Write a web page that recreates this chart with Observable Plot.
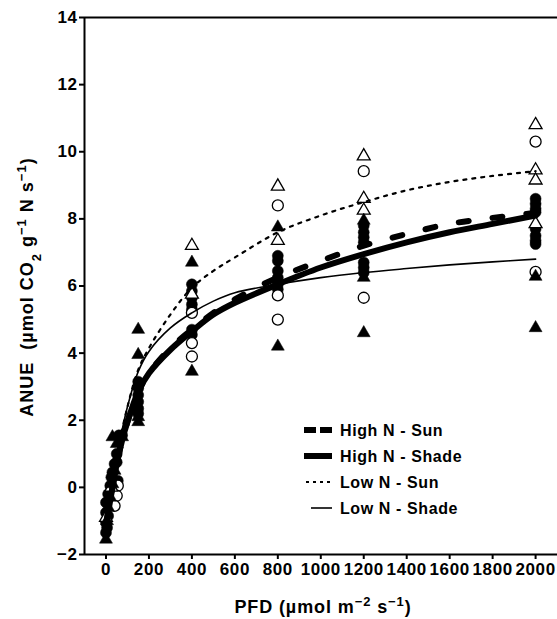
<!DOCTYPE html>
<html><head><meta charset="utf-8">
<script src="https://cdn.jsdelivr.net/npm/d3@7"></script>
<script src="https://cdn.jsdelivr.net/npm/@observablehq/plot@0.6"></script>
<style>
body{margin:0;background:#fff;}
#wrap{position:relative;width:557px;height:619px;overflow:hidden;}
</style></head><body><div id="wrap"></div>
<script>
// axes
const xDomain = [-100, 2102];
const yDomain = [-2, 14];
const xTicks = [0, 200, 400, 600, 800, 1000, 1200, 1400, 1600, 1800, 2000];
const yTicks = [-2, 0, 2, 4, 6, 8, 10, 12, 14];

// observations [PFD, ANUE]
const filledCircles = [
  [0,-1.35],[0,-1.05],[0,-0.75],[0,-0.45],[5,-1.2],[10,-0.85],[10,-0.2],[15,-0.5],[20,0.05],[25,0.3],[25,-0.15],[30,0.45],[40,0.7],[50,1.0],[50,0.75],[55,0.2],[60,1.55],[75,1.55],
  [150,3.15],[150,2.95],[150,2.75],[150,2.55],[150,2.35],[150,2.2],
  [400,6.05],[400,5.85],[400,5.65],[400,5.45],[400,5.3],[400,4.7],[400,4.55],
  [800,6.9],[800,6.75],[800,6.45],[800,6.25],[800,6.05],[800,5.9],
  [1200,7.8],[1200,7.6],[1200,7.45],[1200,7.3],[1200,6.7],[1200,6.55],[1200,6.4],
  [2000,8.6],[2000,8.45],[2000,8.3],[2000,8.2],[2000,7.7],[2000,7.5],[2000,7.35],[2000,7.25]
];
const openCircles = [
  [55,0.05],[50,-0.25],[40,-0.55],
  [400,5.2],[400,4.3],[400,3.9],
  [800,8.4],[800,5.72],[800,5.0],
  [1200,9.42],[1200,5.65],
  [2000,10.3],[2000,6.42]
];
const openTriangles = [
  [0,-0.9],[25,0.0],
  [400,7.2],[400,5.75],
  [800,8.97],[800,7.35],
  [1200,9.87],[1200,8.6],[1200,8.25],
  [2000,10.8],[2000,9.45],[2000,9.15],[2000,7.85]
];
const filledTriangles = [
  [0,-1.55],[5,-1.0],[10,-0.6],[20,-0.3],[30,0.1],[40,0.5],[50,1.3],[30,1.5],[75,1.5],
  [150,4.7],[150,3.95],[150,2.1],[150,1.95],
  [400,6.7],[400,3.45],
  [800,7.75],[800,4.2],
  [1200,7.95],[1200,6.25],[1200,4.6],
  [2000,6.28],[2000,4.75]
];

// fitted curves [PFD, ANUE]
const highNSun = [[0,-1.1],[25,-0.2],[50,0.7],[75,1.4],[100,1.95],[150,2.85],[200,3.4],[300,4.15],[400,4.7],[500,5.2],[600,5.6],[700,5.95],[800,6.25],[1000,6.75],[1200,7.2],[1400,7.55],[1600,7.85],[1800,8.03],[2000,8.18]];
const highNShade = [[0,-1.1],[25,-0.2],[50,0.7],[75,1.4],[100,1.95],[150,2.85],[200,3.4],[300,4.1],[400,4.65],[500,5.15],[600,5.5],[800,6.05],[1000,6.55],[1200,6.95],[1400,7.3],[1600,7.6],[1800,7.85],[2000,8.1]];
const lowNSun = [[0,-1.0],[50,0.9],[100,2.4],[150,3.5],[200,4.15],[300,5.15],[400,5.95],[500,6.45],[600,6.85],[800,7.6],[1000,8.1],[1200,8.5],[1400,8.85],[1600,9.1],[1800,9.28],[2000,9.42]];
const lowNShade = [[0,-1.0],[50,0.9],[100,2.4],[150,3.45],[200,4.05],[300,4.75],[400,5.2],[500,5.55],[600,5.8],[800,6.05],[1000,6.25],[1200,6.4],[1400,6.52],[1600,6.63],[1800,6.72],[2000,6.8]];

const legendLabels = ["High N - Sun", "High N - Shade", "Low N - Sun", "Low N - Shade"];

const FONT = '"Liberation Sans", Arial, Helvetica, sans-serif';
const px = d => d[0], py = d => d[1];

const plot = Plot.plot({
  width: 557, height: 619,
  marginLeft: 84, marginRight: 0, marginTop: 17, marginBottom: 65,
  x: {domain: xDomain},
  y: {domain: yDomain},
  style: {fontFamily: FONT, fontWeight: "bold", fontSize: "17px", color: "black", background: "white", overflow: "visible"},
  marks: [
    Plot.ruleX([xDomain[0]], {stroke: "black", strokeWidth: 2}),
    Plot.ruleY([yDomain[0]], {stroke: "black", strokeWidth: 2}),
    Plot.ruleY([yDomain[1]], {stroke: "black", strokeWidth: 2}),
    Plot.axisX(xTicks, {tickSize: 5, tickPadding: 3, strokeWidth: 2, label: null, fontSize: 17, fontWeight: "bold", tickFormat: d => String(d)}),
    Plot.axisY(yTicks, {tickSize: 5, tickPadding: 2, strokeWidth: 2, label: null, fontSize: 17, fontWeight: "bold", tickFormat: d => d < 0 ? "\u2212" + Math.abs(d) : String(d)}),
    Plot.dot(filledCircles, {x: px, y: py, r: 5.5, fill: "black", stroke: "black", strokeWidth: 0.5}),
    Plot.dot(openCircles, {x: px, y: py, r: 5.5, fill: "white", stroke: "black", strokeWidth: 1.3}),
    Plot.dot(openTriangles, {x: px, y: py, r: 4.8, symbol: "triangle", fill: "white", stroke: "black", strokeWidth: 1.3}),
    Plot.dot(filledTriangles, {x: px, y: py, r: 4.8, symbol: "triangle", fill: "black", stroke: "black", strokeWidth: 0.5}),
    Plot.line(lowNShade, {x: px, y: py, curve: "catmull-rom", stroke: "black", strokeWidth: 1.6}),
    Plot.line(lowNSun, {x: px, y: py, curve: "catmull-rom", stroke: "black", strokeWidth: 2.2, strokeDasharray: "3,6"}),
    Plot.line(highNShade, {x: px, y: py, curve: "catmull-rom", stroke: "black", strokeWidth: 6}),
    Plot.line(highNSun, {x: px, y: py, curve: "catmull-rom", stroke: "black", strokeWidth: 6, strokeDasharray: "10,24"})
  ]
});
document.getElementById("wrap").appendChild(plot);

const svg = d3.select(plot);
svg.selectAll("text").attr("letter-spacing", "0.6");

// y axis title
const yt = svg.append("text")
  .attr("transform", "translate(33,287) rotate(-90)")
  .attr("text-anchor", "middle").attr("font-family", FONT).attr("font-weight", "bold")
  .attr("font-size", 18).attr("letter-spacing", "1").attr("fill", "black");
yt.append("tspan").text("ANUE  (\u00b5mol CO");
yt.append("tspan").attr("baseline-shift", "sub").attr("font-size", 13).text("2");
yt.append("tspan").text(" g");
yt.append("tspan").attr("baseline-shift", "super").attr("font-size", 13).text("\u22121");
yt.append("tspan").text(" N s");
yt.append("tspan").attr("baseline-shift", "super").attr("font-size", 13).text("\u22121");
yt.append("tspan").text(")");

// x axis title
const xt = svg.append("text")
  .attr("transform", "translate(323,613)")
  .attr("text-anchor", "middle").attr("font-family", FONT).attr("font-weight", "bold")
  .attr("font-size", 18).attr("letter-spacing", "0.9").attr("fill", "black");
xt.append("tspan").text("PFD (\u00b5mol m");
xt.append("tspan").attr("baseline-shift", "super").attr("font-size", 13).text("\u22122");
xt.append("tspan").text(" s");
xt.append("tspan").attr("baseline-shift", "super").attr("font-size", 13).text("\u22121");
xt.append("tspan").text(")");

// legend
const lg = svg.append("g");
const rows = [430, 456, 482, 508];
lg.append("line").attr("x1", 304).attr("x2", 332).attr("y1", rows[0]).attr("y2", rows[0]).attr("stroke", "black").attr("stroke-width", 6).attr("stroke-dasharray", "12,4");
lg.append("line").attr("x1", 304).attr("x2", 332).attr("y1", rows[1]).attr("y2", rows[1]).attr("stroke", "black").attr("stroke-width", 6);
lg.append("line").attr("x1", 306).attr("x2", 333).attr("y1", rows[2]).attr("y2", rows[2]).attr("stroke", "black").attr("stroke-width", 2.2).attr("stroke-dasharray", "3,4");
lg.append("line").attr("x1", 311).attr("x2", 332).attr("y1", rows[3]).attr("y2", rows[3]).attr("stroke", "black").attr("stroke-width", 1.6);
legendLabels.forEach((t, i) => {
  lg.append("text").attr("x", 340).attr("y", rows[i]).attr("dy", "0.36em")
    .attr("text-anchor", "start")
    .attr("font-family", FONT).attr("font-weight", "bold").attr("font-size", 16)
    .attr("letter-spacing", "0.6").attr("fill", "black").text(t);
});
</script>
</body></html>
